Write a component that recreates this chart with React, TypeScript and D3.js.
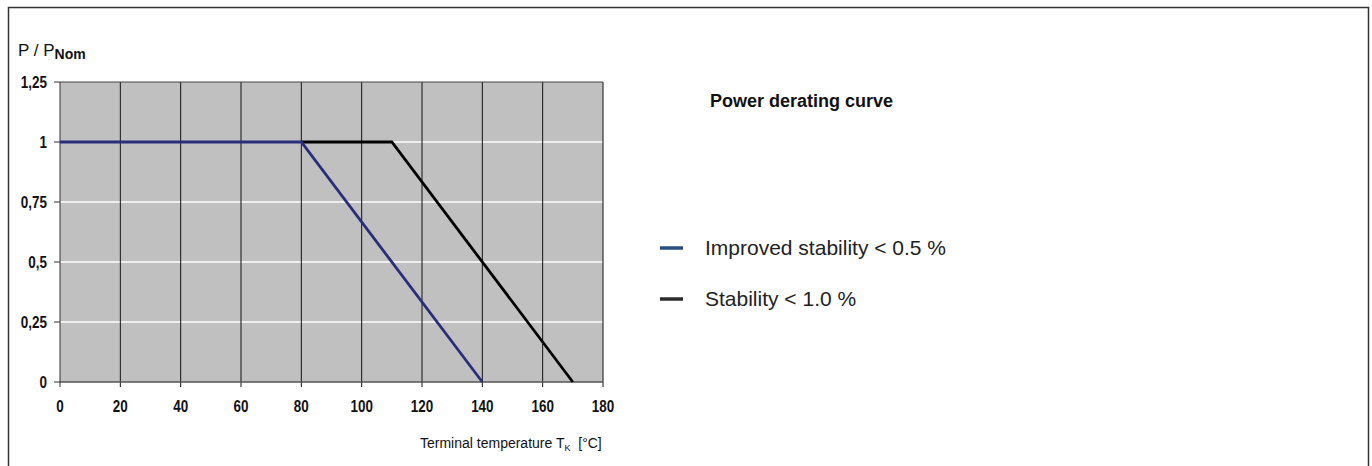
import React from "react";
import * as d3 from "d3";

const xTicks = [0, 20, 40, 60, 80, 100, 120, 140, 160, 180];
const yTicks = [0, 0.25, 0.5, 0.75, 1, 1.25];
const yTickLabels = ["0", "0,25", "0,5", "0,75", "1", "1,25"];
const improvedX = [0, 80, 140];
const improvedY = [1, 1, 0];
const standardX = [80, 110, 170];
const standardY = [1, 1, 0];
const legendLabels = ["Improved stability < 0.5 %", "Stability < 1.0 %"];

export default function App() {
  const W = 1372, H = 466;
  const x = d3.scaleLinear().domain([0, 180]).range([60, 603]);
  const y = d3.scaleLinear().domain([0, 1.25]).range([382, 82]);
  const line = d3.line<[number, number]>().x(d => x(d[0])).y(d => y(d[1]));
  const imp: [number, number][] = improvedX.map((v, i) => [v, improvedY[i]]);
  const std: [number, number][] = standardX.map((v, i) => [v, standardY[i]]);
  const font = "'Liberation Sans', Arial, sans-serif";
  const tick = (key: string, tx: number, ty: number, label: string, anchor: string) => (
    <text key={key} transform={`translate(${tx},${ty}) scale(0.84,1)`} textAnchor={anchor}
      fontFamily={font} fontWeight="bold" fontSize={16} fill="#111">{label}</text>
  );
  return (
    <svg width={W} height={H} style={{ position: "absolute", left: 0, top: 0 }}>
      <rect x={0} y={0} width={W} height={H} fill="#fff" />
      <path d={`M8.5,${H} V7.5 H1368.5 V${H}`} fill="none" stroke="#333" strokeWidth={1.5} />
      <rect x={x(0)} y={y(1.25)} width={x(180) - x(0)} height={y(0) - y(1.25)} fill="#c0c0c0" />
      {yTicks.filter(t => t > 0 && t < 1.25).map(t => (
        <line key={"h" + t} x1={x(0)} x2={x(180)} y1={y(t)} y2={y(t)} stroke="#fff" strokeWidth={1.3} />
      ))}
      {xTicks.filter(t => t > 0).map(t => (
        <line key={"v" + t} x1={x(t)} x2={x(t)} y1={y(1.25)} y2={y(0) + 5} stroke="#111" strokeWidth={1} />
      ))}
      <line x1={x(0)} x2={x(180)} y1={y(1.25)} y2={y(1.25)} stroke="#444" strokeWidth={1} />
      <line x1={x(0)} x2={x(180)} y1={y(0)} y2={y(0)} stroke="#555" strokeWidth={1.5} />
      <line x1={x(0)} x2={x(0)} y1={y(1.25)} y2={y(0) + 5} stroke="#333" strokeWidth={1} />
      {yTicks.map((t, i) => (
        <g key={"yt" + t}>
          <line x1={x(0) - 6} x2={x(0)} y1={y(t)} y2={y(t)} stroke="#333" strokeWidth={1} />
          {tick("ytl" + t, x(0) - 13, y(t) + 6, yTickLabels[i], "end")}
        </g>
      ))}
      {xTicks.map(t => tick("xt" + t, x(t), y(0) + 30, String(t), "middle"))}
      <path d={line(std) || ""} fill="none" stroke="#000" strokeWidth={2.8} />
      <path d={line(imp) || ""} fill="none" stroke="#2a2d7c" strokeWidth={2.8} />
      <text x={18} y={56} fontFamily={font} fontSize={17} fill="#111">P / P<tspan fontSize={14} fontWeight="bold" dy={3}>Nom</tspan></text>
      <text x={420} y={448} fontFamily={font} fontSize={14} fill="#111" style={{ whiteSpace: "pre" }}>Terminal temperature T<tspan fontSize={9} dy={3}>K</tspan><tspan dy={-3}>{"  [°C]"}</tspan></text>
      <text x={710} y={107} fontFamily={font} fontSize={18} fontWeight="bold" fill="#111">Power derating curve</text>
      {legendLabels.map((l, i) => (
        <g key={l}>
          <line x1={660} x2={683} y1={248 + i * 51} y2={248 + i * 51} stroke={i === 0 ? "#2b4f81" : "#2b2b2b"} strokeWidth={3.5} />
          <text x={705} y={248 + i * 51} dy="0.35em" fontFamily={font} fontSize={21} fill="#222">{l}</text>
        </g>
      ))}
    </svg>
  );
}
